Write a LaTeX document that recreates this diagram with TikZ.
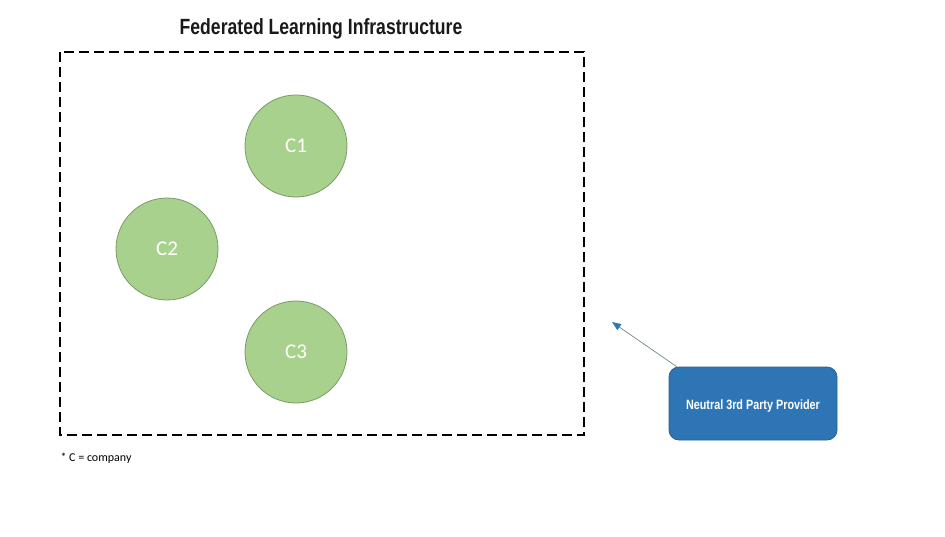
\documentclass[tikz,border=0pt]{standalone}
\usepackage{fontspec}
\setmainfont{Liberation Sans}
\newfontfamily\condbold[FakeStretch=0.8,UprightFont={* Bold}]{Liberation Sans}
\newfontfamily\bodyfont{Carlito}
\usetikzlibrary{arrows.meta}
\definecolor{cgreen}{HTML}{A9D18E}
\definecolor{cgreenb}{HTML}{7A9A66}
\definecolor{pblue}{HTML}{2E75B6}
\definecolor{pblueb}{HTML}{2A5F8F}
\definecolor{arrline}{HTML}{6E8B74}
\definecolor{titlec}{HTML}{1A1A1A}
\begin{document}
\begin{tikzpicture}[x=1pt,y=-1pt,
  company/.style={circle,draw=cgreenb,line width=0.8pt,fill=cgreen,minimum size=102pt,inner sep=0pt,text=white,font=\bodyfont\fontsize{21}{24}\selectfont},
  provider/.style={rectangle,rounded corners=10pt,draw=pblueb,line width=0.8pt,fill=pblue,minimum width=168pt,minimum height=73pt,text=white,font=\condbold\fontsize{13.5}{16}\selectfont},
  infra/.style={draw=black,line width=2.8pt,dash pattern=on 10pt off 5pt}]
\useasboundingbox (0,0) rectangle (945,536);
\node[font=\condbold\fontsize{22}{26}\selectfont,text=titlec] (title) at (321,29) {Federated Learning Infrastructure};
\draw[infra] (60,52) rectangle (584,435);
\coordinate (infraside) at (612,322);
\node[company] (c1) at (296,146) {C1};
\node[company] (c2) at (167,249) {C2};
\node[company] (c3) at (296,352) {C3};
\node[provider] (prov) at (753,403.5) {};
\node[font=\condbold\fontsize{13.5}{16}\selectfont,text=white] (provtext) at (753,406) {Neutral 3rd Party Provider};
\draw[arrline,line width=0.7pt,-{Triangle[length=9pt,width=7pt,fill=pblue,color=pblue]}] (prov.north west) ++(8,0) coordinate (pstart) -- (infraside);
\node[anchor=west,font=\bodyfont\fontsize{12}{14}\selectfont] (note) at (57,458) {* C = company};
\end{tikzpicture}
\end{document}
